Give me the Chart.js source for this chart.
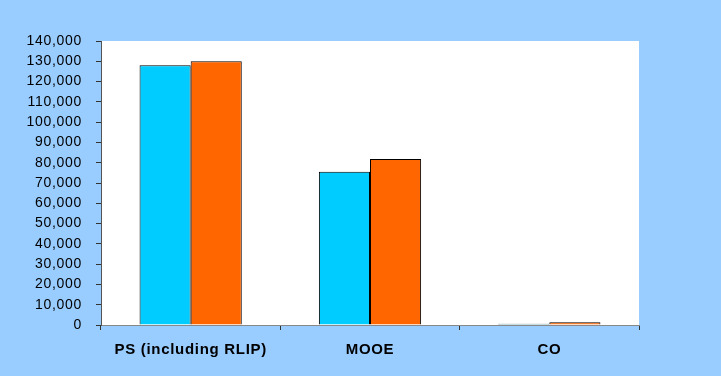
<!DOCTYPE html>
<html lang="en">
<head>
    <meta charset="UTF-8">
    <title>PS / MOOE / CO</title>
    <script src="https://cdn.jsdelivr.net/npm/chart.js"></script>
    <style>
        body {
            margin: 0;
            background: #99ccff;
        }
        .chart-container {
            width: 721px;
            height: 376px;
        }
    </style>
</head>
<body>
<div class="chart-container">
    <canvas id="budgetChart"></canvas>
</div>
<script>
    // podaci
    const categories = ['PS (including RLIP)', 'MOOE', 'CO'];
    const series1 = [128000, 75600, 600];
    const series2 = [130000, 81800, 1300];
    const yMax = 140000;
    const yStep = 10000;

    // malo razmaka izmedju slova, kao u originalu
    function setSpacing(chart) {
        chart.ctx.letterSpacing = '0.7px';
    }

    // pozadina: plavo platno, bijelo podrucje grafa
    const backgroundPlugin = {
        id: 'bg',
        beforeLayout(chart) { setSpacing(chart); },
        beforeDraw(chart) {
            const ctx = chart.ctx;
            const a = chart.chartArea;
            setSpacing(chart);
            ctx.save();
            ctx.fillStyle = '#99ccff';
            ctx.fillRect(0, 0, chart.width, chart.height);
            ctx.fillStyle = '#ffffff';
            ctx.fillRect(a.left, a.top, a.right - a.left, a.bottom - a.top);
            ctx.restore();
        }
    };

    const ctx = document.getElementById('budgetChart').getContext('2d');
    const chart = new Chart(ctx, {
        type: 'bar',
        data: {
            labels: categories,
            datasets: [{
                label: 'Series 1',
                data: series1,
                backgroundColor: '#00ccff',
                borderColor: '#000000',
                borderWidth: 1
            }, {
                label: 'Series 2',
                data: series2,
                backgroundColor: '#ff6600',
                borderColor: '#000000',
                borderWidth: 1
            }]
        },
        options: {
            responsive: true,
            maintainAspectRatio: false,
            animation: false,
            layout: {
                padding: { top: 41, right: 82, bottom: 0, left: 0 }
            },
            datasets: {
                bar: {
                    categoryPercentage: 0.57,
                    barPercentage: 1.0
                }
            },
            plugins: {
                legend: { display: false },
                tooltip: { enabled: false }
            },
            scales: {
                x: {
                    afterFit(scale) { scale.height = 51; },
                    grid: {
                        offset: true,
                        drawOnChartArea: false,
                        drawTicks: true,
                        tickLength: 5,
                        color: '#333333'
                    },
                    border: { color: '#888888', width: 1 },
                    ticks: {
                        padding: 11,
                        color: '#000000',
                        font: { family: 'Liberation Sans, Arial, sans-serif', size: 15, weight: 'bold' }
                    }
                },
                y: {
                    min: 0,
                    max: yMax,
                    afterFit(scale) { scale.width = 101; },
                    grid: {
                        drawOnChartArea: false,
                        drawTicks: true,
                        tickLength: 5,
                        color: '#333333'
                    },
                    border: { color: '#555555', width: 1 },
                    ticks: {
                        stepSize: yStep,
                        autoSkip: false,
                        padding: 14,
                        color: '#000000',
                        font: { family: 'Liberation Sans, Arial, sans-serif', size: 14 },
                        callback: v => v.toLocaleString('en-US')
                    }
                }
            }
        },
        plugins: [backgroundPlugin]
    });
</script>
</body>
</html>
